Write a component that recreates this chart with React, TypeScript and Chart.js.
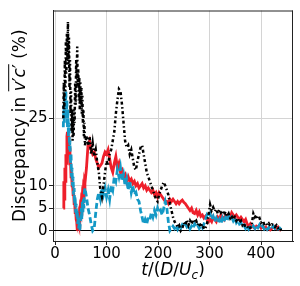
import React, { useEffect, useRef } from 'react';
import { Chart, registerables } from 'chart.js';

Chart.register(...registerables);

// time axis t/(D/U_c)
const T = [
  16, 17, 18, 19, 20, 21, 22, 23, 24, 25,
  26, 27, 28, 29, 30, 31, 32, 33, 34, 35,
  36, 37, 38, 39, 40, 41, 42, 43, 44, 45,
  46, 47, 48, 49, 50, 51, 52, 53, 54, 55,
  56, 57, 58, 61, 64, 67, 70, 73, 76, 79,
  82, 85, 88, 91, 94, 97, 100, 103, 106, 109,
  112, 115, 118, 121, 124, 127, 130, 133, 136, 139,
  142, 145, 148, 151, 154, 157, 160, 163, 166, 169,
  172, 175, 178, 181, 184, 187, 190, 193, 196, 199,
  202, 205, 208, 211, 214, 217, 220, 223, 226, 229,
  232, 235, 238, 241, 244, 247, 250, 253, 256, 259,
  262, 265, 268, 271, 274, 277, 280, 283, 286, 289,
  292, 295, 298, 301, 304, 307, 310, 313, 316, 319,
  322, 325, 328, 331, 334, 337, 340, 343, 346, 349,
  352, 355, 358, 361, 364, 367, 370, 373, 376, 379,
  382, 385, 388, 391, 394, 397, 400, 403, 406, 409,
  412, 415, 418, 421, 424, 427, 430, 433, 436, 439,
];

// red solid series (%)
const RED = [
  5, 11, 7, 14, 11, 17, 15, 21, 22, 19.5,
  21, 17, 18.5, 14.5, 15.5, 12, 13, 10, 10.5, 8,
  8.5, 6, 6.5, 4, 4.5, 2.5, 2, 0.3, 0.8, 2,
  1.5, 3.5, 3, 5, 4.5, 6.5, 6, 8, 7.5, 9.5,
  9, 11, 10.5, 14, 19, 20, 18, 17, 17.5, 16,
  15, 14, 14.5, 15, 16.5, 17.5, 17, 18, 16, 14,
  13, 15, 16.5, 14, 15, 13, 13.5, 12, 12.5, 11,
  12, 11, 11.5, 10.5, 11, 10, 10.5, 9.5, 10, 10.5,
  9.5, 10, 9, 9.5, 9, 8.5, 9, 8, 8.5, 7.5,
  8.5, 8, 7.5, 7, 6.5, 6.5, 6, 7, 6.5, 7,
  6.5, 6, 6.5, 6, 6.5, 6.8, 6.3, 6, 5.5, 5,
  4.5, 5, 4, 3.8, 4.5, 3.5, 4.2, 3.2, 3.5, 2.8,
  3.2, 2.5, 2, 2.5, 2, 3, 2.5, 2, 3, 2.5,
  3.5, 3, 2.5, 3.5, 3, 3.5, 3, 4, 3.5, 3,
  3.5, 3, 2.5, 3, 2.5, 2, 2.5, 1.5, 1, 1.5,
  0.8, 1, 0.5, 1, 0.8, 1.2, 0.6, 1, 0.5, 0.8,
  0.3, 0.6, 0.2, 0.5, 0.8, 1, 0.5, 0.8, 0.3, 0,
];

// blue dashed series (%)
const BLUE = [
  23, 28, 24, 30, 26, 31, 25, 29, 23, 27,
  21, 24, 18, 20, 15, 17, 12, 14, 10, 12,
  8, 9.5, 6, 7.5, 4, 6, 3, 4.5, 1.5, 3,
  0.5, 2, 0, 1.5, 3, 5, 2.5, 6.5, 4, 7,
  5, 8.5, 9.5, 7.5, 5, 3.5, 1.5, 0, 0.5, 4,
  7, 8.5, 7, 9.5, 8, 9.5, 7.5, 9, 7, 10,
  9, 12, 11, 13.5, 12, 14, 11, 12.5, 10, 11.5,
  9, 11, 8.5, 10, 8, 8.5, 7, 6.5, 4.5, 3,
  1.5, 2.5, 1.5, 3, 2.5, 4, 3, 4.5, 3.5, 5,
  4, 4.5, 3.5, 5, 6.5, 5, 2, 0, 0.5, 1,
  0.5, 1.2, 0.3, 1, 0.5, 1.3, 0.8, 1.5, 0.8, 1.2,
  0.4, 1, 0.5, 1.5, 0.8, 1.2, 0.5, 1, 0.6, 1.5,
  2.5, 3.5, 3, 3.8, 2.5, 3.2, 2, 2.8, 1.8, 2.5,
  1.5, 2.8, 2, 3, 2.2, 3.2, 2.5, 3, 2.2, 2.8,
  1.8, 2.3, 1.5, 1.8, 0.8, 1.2, 0.5, 1, 0.3, 0.8,
  0.4, 1, 0.5, 1.2, 0.7, 1.3, 0.6, 1, 0.4, 0.9,
  0.3, 0.7, 0.2, 0.6, 1, 0.5, 0.8, 0.4, 0.6, 0.2,
];

// black dash-dot series (%)
const BLACK = [
  25, 33, 27, 38, 31, 42, 35, 44, 38, 46.5,
  37, 43, 32, 38, 26, 31, 22, 27, 20, 25,
  21, 27, 24, 33, 28, 38, 34, 41, 32, 36,
  29, 34, 27, 33, 28, 32, 26, 30, 24, 27,
  21, 24, 19, 21, 19, 21, 17, 19.5, 16.5, 18,
  15, 13, 9, 7.5, 10, 13, 15.5, 14.5, 17, 18,
  20, 22, 26, 29, 31.5, 31, 28, 24, 20, 18.5,
  19, 17, 18, 16, 14, 13.5, 15.5, 17, 18.5, 19,
  17, 15, 13, 12, 11, 10, 9, 8, 7, 6.5,
  8, 9, 10, 10.8, 10, 9, 8, 6, 4.5, 3,
  2, 1.5, 0.8, 1.2, 0, 0.5, 1.8, 1.2, 2.4, 1.2,
  2.2, 1.5, 2.5, 1.8, 2.2, 1.2, 1.8, 0.8, 1.5, 0.3,
  0.6, 1.5, 3.5, 5.8, 4.5, 5.2, 4.3, 4.8, 3.8, 4.7,
  4, 4.5, 3.5, 4.2, 3.2, 3.8, 2.8, 3.4, 2.5, 3,
  2.2, 2.8, 1.8, 2.2, 1.2, 1.6, 0.8, 1, 0.3, 0.6,
  1.5, 3.8, 3, 3.5, 2.5, 2.8, 1.8, 2.2, 1.5, 1.8,
  1.2, 1.6, 1, 1.4, 1.3, 0.8, 1.2, 0.6, 0.8, 0,
];

const X_TICKS = [0, 100, 200, 300, 400];
const Y_TICKS = [0, 5, 10, 25];

const Y_TITLE_PRE = 'Discrepancy in ';
const Y_TITLE_VAR = ['v', '′', 'c', '′'];
const Y_TITLE_POST = ' (%)';
const X_TITLE = ['t', '/(', 'D', '/', 'U', 'c', ')'];

const FONT = '"DejaVu Sans", sans-serif';

const framePlugin = {
  id: 'frameAndTitles',
  afterDraw(chart: any) {
    const { ctx, chartArea: a } = chart;
    ctx.save();
    // top and right spines
    ctx.strokeStyle = '#222';
    ctx.lineWidth = 1;
    ctx.beginPath();
    ctx.moveTo(a.left, a.top + 0.5);
    ctx.lineTo(a.right, a.top + 0.5);
    ctx.moveTo(a.right - 0.5, a.top);
    ctx.lineTo(a.right - 0.5, a.bottom);
    ctx.stroke();

    ctx.fillStyle = '#000';
    ctx.textBaseline = 'alphabetic';
    ctx.textAlign = 'left';
    const fs = 17;
    const normal = `${fs}px ${FONT}`;
    const ital = `italic ${fs}px ${FONT}`;

    // y title (rotated)
    const yParts: [string, string][] = [
      [Y_TITLE_PRE, normal],
      [Y_TITLE_VAR[0], ital],
      [Y_TITLE_VAR[1], normal],
      [Y_TITLE_VAR[2], ital],
      [Y_TITLE_VAR[3], normal],
      [Y_TITLE_POST, normal],
    ];
    const widths = yParts.map(([s, f]) => {
      ctx.font = f;
      return ctx.measureText(s).width;
    });
    const total = widths.reduce((p, c) => p + c, 0);
    const cy = (a.top + a.bottom) / 2;
    ctx.save();
    ctx.translate(24.5, cy);
    ctx.rotate(-Math.PI / 2);
    let x = -total / 2;
    let olStart = 0;
    let olEnd = 0;
    yParts.forEach(([s, f], i) => {
      if (i === 1) olStart = x;
      ctx.font = f;
      ctx.fillText(s, x, 0);
      x += widths[i];
      if (i === 4) olEnd = x;
    });
    ctx.strokeStyle = '#000';
    ctx.lineWidth = 1;
    ctx.beginPath();
    ctx.moveTo(olStart, -15.8);
    ctx.lineTo(olEnd, -15.8);
    ctx.stroke();
    ctx.restore();

    // x title
    const sub = `italic 12px ${FONT}`;
    const xParts: [string, string, number][] = [
      [X_TITLE[0], ital, 0],
      [X_TITLE[1], normal, 0],
      [X_TITLE[2], ital, 0],
      [X_TITLE[3], normal, 0],
      [X_TITLE[4], ital, 0],
      [X_TITLE[5], sub, 3.5],
      [X_TITLE[6], normal, 0],
    ];
    const xw = xParts.map(([s, f]) => {
      ctx.font = f;
      return ctx.measureText(s).width;
    });
    const xt = xw.reduce((p, c) => p + c, 0);
    let xx = (a.left + a.right) / 2 - xt / 2;
    xParts.forEach(([s, f, dy], i) => {
      ctx.font = f;
      ctx.fillText(s, xx, 275 + dy);
      xx += xw[i];
    });
    ctx.restore();
  },
};

export default function App() {
  const ref = useRef<HTMLCanvasElement>(null);
  useEffect(() => {
    const canvas = ref.current;
    if (!canvas) return;
    const pts = (ys: number[]) => T.map((t, i) => ({ x: t, y: ys[i] }));
    const chart = new Chart(canvas, {
      type: 'line',
      data: {
        datasets: [
          {
            label: 'black',
            data: pts(BLACK),
            borderColor: '#000000',
            borderWidth: 2.5,
            borderDash: [3, 2.5, 1.5, 2.5],
            pointRadius: 0,
            fill: false,
            tension: 0,
          },
          {
            label: 'blue',
            data: pts(BLUE),
            borderColor: '#1499c6',
            borderWidth: 2.8,
            borderDash: [6, 3],
            pointRadius: 0,
            fill: false,
            tension: 0,
          },
          {
            label: 'red',
            data: pts(RED),
            borderColor: '#ee1f2b',
            borderWidth: 2.8,
            pointRadius: 0,
            fill: false,
            tension: 0,
          },
        ],
      },
      options: {
        responsive: false,
        animation: false,
        events: [],
        layout: { padding: { left: 0, right: 7, top: 7, bottom: 0 } },
        plugins: { legend: { display: false }, tooltip: { enabled: false } },
        scales: {
          x: {
            type: 'linear',
            min: -4,
            max: 462,
            afterBuildTicks: (s: any) => {
              s.ticks = X_TICKS.map((v) => ({ value: v }));
            },
            afterFit: (s: any) => {
              s.height = 45;
            },
            ticks: {
              font: { family: FONT, size: 15 },
              color: '#000',
              padding: 0,
              maxRotation: 0,
              autoSkip: false,
            },
            grid: {
              color: '#d4d4d4',
              lineWidth: 1,
              tickColor: '#222',
              tickLength: 4,
            },
            border: { color: '#222', width: 1 },
          },
          y: {
            type: 'linear',
            min: -2.3,
            max: 49,
            afterBuildTicks: (s: any) => {
              s.ticks = Y_TICKS.map((v) => ({ value: v }));
            },
            afterFit: (s: any) => {
              s.width = 53;
            },
            ticks: {
              font: { family: FONT, size: 15 },
              color: '#000',
              padding: 1.5,
              autoSkip: false,
            },
            grid: {
              color: (c: any) => (c.tick && c.tick.value === 0 ? '#000' : '#d4d4d4'),
              lineWidth: 1,
              tickColor: '#222',
              tickLength: 4,
            },
            border: { color: '#222', width: 1 },
          },
        },
      },
      plugins: [framePlugin],
    });
    return () => chart.destroy();
  }, []);
  return (
    <div style={{ position: 'fixed', left: 0, top: 0, width: 300, height: 286, background: '#fff' }}>
      <canvas ref={ref} width={300} height={286} style={{ display: 'block' }} />
    </div>
  );
}
